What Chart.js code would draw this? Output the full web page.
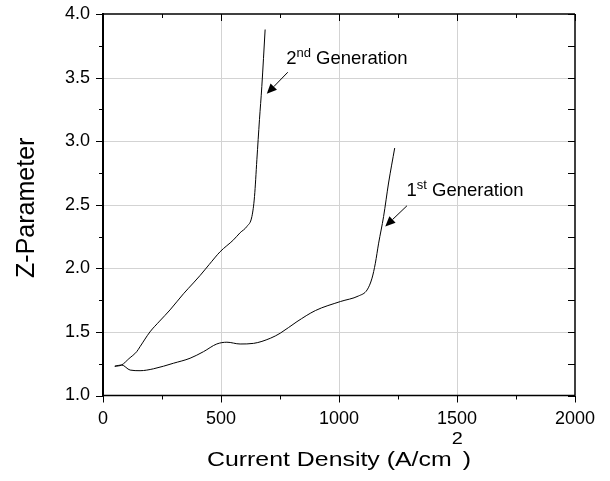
<!DOCTYPE html>
<html>
<head>
<meta charset="utf-8">
<script src="https://cdn.jsdelivr.net/npm/chart.js@4/dist/chart.umd.min.js"></script>
<style>
  html, body { margin: 0; padding: 0; background: #fff; }
  canvas { display: block; }
</style>
</head>
<body>
<canvas id="c" width="610" height="481"></canvas>
<script>
// Current density (A/cm^2) and Z-parameter for each generation
const gen1X = [50, 79, 115, 157, 214, 299, 369, 426, 482, 525, 581, 638, 709, 751, 822, 900, 1006, 1083, 1119, 1140, 1154, 1168, 1189, 1210, 1236];
const gen1Y = [1.23, 1.24, 1.20, 1.195, 1.21, 1.254, 1.293, 1.345, 1.405, 1.419, 1.405, 1.41, 1.45, 1.49, 1.581, 1.668, 1.739, 1.783, 1.83, 1.923, 2.04, 2.198, 2.408, 2.671, 2.946];

const gen2X = [50, 79, 110, 143, 157, 199, 240, 284, 341, 383, 412, 450, 496, 553, 581, 610, 631, 642, 652, 663, 673, 687];
const gen2Y = [1.23, 1.24, 1.29, 1.345, 1.384, 1.50, 1.585, 1.673, 1.80, 1.885, 1.945, 2.03, 2.13, 2.224, 2.28, 2.33, 2.408, 2.565, 2.854, 3.169, 3.43, 3.878];

// Axis ranges and steps
const xRange = [0, 2000];
const yRange = [1.0, 4.0];
const xMajor = 500, xMinor = 250;
const yMajor = 0.5, yMinor = 0.25;

// Axis titles: [text, superscript, closing text]
const xTitle = ['Current Density (A/cm', '2', ')'];
const yTitle = 'Z-Parameter';

// Callout labels: [main, superscript, rest]
const gen1Label = ['1', 'st', ' Generation'];
const gen2Label = ['2', 'nd', ' Generation'];

const FONT = '"Liberation Sans", Arial, Helvetica, sans-serif';

const toPoints = (xs, ys) => xs.map((v, i) => ({ x: v, y: ys[i] }));

function seg(ctx, x1, y1, x2, y2) {
  ctx.beginPath();
  ctx.moveTo(x1, y1);
  ctx.lineTo(x2, y2);
  ctx.stroke();
}

const isMultiple = (v, step) => Math.abs(v / step - Math.round(v / step)) < 1e-6;

// Light grid at interior major ticks
const gridPlugin = {
  id: 'grid',
  beforeDatasetsDraw(chart) {
    const { ctx, chartArea: { left, right, top, bottom }, scales: { x, y } } = chart;
    ctx.save();
    ctx.strokeStyle = '#d3d3d3';
    ctx.lineWidth = 1;
    for (let v = xRange[0] + xMajor; v < xRange[1] - 1e-6; v += xMajor) {
      const px = Math.round(x.getPixelForValue(v)) + 0.5;
      seg(ctx, px, top, px, bottom);
    }
    for (let v = yRange[0] + yMajor; v < yRange[1] - 1e-6; v += yMajor) {
      const py = Math.round(y.getPixelForValue(v)) + 0.5;
      seg(ctx, left, py, right, py);
    }
    ctx.restore();
  }
};

// Box frame with ticks
const framePlugin = {
  id: 'frame',
  afterDatasetsDraw(chart) {
    const { ctx, chartArea: { left, right, top, bottom }, scales: { x, y } } = chart;
    ctx.save();
    ctx.strokeStyle = '#000';
    ctx.lineWidth = 1;
    for (let v = xRange[0]; v <= xRange[1] + 1e-6; v += xMinor) {
      const px = Math.round(x.getPixelForValue(v)) + 0.5;
      const len = isMultiple(v, xMajor) ? 7 : 4;
      seg(ctx, px, bottom, px, bottom + len);
      seg(ctx, px, top, px, top + len);
    }
    for (let v = yRange[0]; v <= yRange[1] + 1e-6; v += yMinor) {
      const py = Math.round(y.getPixelForValue(v)) + 0.5;
      const len = isMultiple(v, yMajor) ? 7 : 4;
      seg(ctx, left - len, py, left, py);
      seg(ctx, right - 7, py, right, py);
    }
    ctx.lineWidth = 1.5;
    seg(ctx, left, top, right, top);
    seg(ctx, right, top, right, bottom);
    seg(ctx, left, bottom, right, bottom);
    ctx.lineWidth = 2;
    seg(ctx, left, top - 1, left, bottom + 1);
    ctx.restore();
  }
};

function drawArrow(ctx, x1, y1, x2, y2) {
  const ang = Math.atan2(y2 - y1, x2 - x1);
  const head = 10, wing = 4.5;
  const bx = x2 - head * Math.cos(ang), by = y2 - head * Math.sin(ang);
  ctx.beginPath();
  ctx.moveTo(x1, y1);
  ctx.lineTo(bx, by);
  ctx.stroke();
  ctx.beginPath();
  ctx.moveTo(x2, y2);
  ctx.lineTo(bx + wing * Math.sin(ang), by - wing * Math.cos(ang));
  ctx.lineTo(bx - wing * Math.sin(ang), by + wing * Math.cos(ang));
  ctx.closePath();
  ctx.fill();
}

function drawLabel(ctx, parts, px, py) {
  ctx.textBaseline = 'alphabetic';
  ctx.textAlign = 'left';
  ctx.font = '18.5px ' + FONT;
  ctx.fillText(parts[0], px, py);
  let cx = px + ctx.measureText(parts[0]).width;
  ctx.font = '13px ' + FONT;
  ctx.fillText(parts[1], cx, py - 7);
  cx += ctx.measureText(parts[1]).width;
  ctx.font = '18.5px ' + FONT;
  ctx.fillText(parts[2], cx, py);
}

// Callouts placed in data coordinates
const calloutPlugin = {
  id: 'callouts',
  afterDatasetsDraw(chart) {
    const { ctx, scales: { x, y } } = chart;
    const P = (vx, vy) => [x.getPixelForValue(vx), y.getPixelForValue(vy)];
    ctx.save();
    ctx.fillStyle = '#000';
    ctx.strokeStyle = '#000';
    ctx.lineWidth = 1;
    let t = P(776, 3.61);
    drawLabel(ctx, gen2Label, t[0], t[1]);
    let a = P(783, 3.542), b = P(694, 3.372);
    drawArrow(ctx, a[0], a[1], b[0], b[1]);
    t = P(1286, 2.571);
    drawLabel(ctx, gen1Label, t[0], t[1]);
    a = P(1288, 2.492); b = P(1196, 2.329);
    drawArrow(ctx, a[0], a[1], b[0], b[1]);
    ctx.restore();
  }
};

// Axis titles, the x title slightly widened
const titlePlugin = {
  id: 'axisTitles',
  afterDraw(chart) {
    const { ctx, chartArea: { left, right, top, bottom } } = chart;
    ctx.save();
    ctx.fillStyle = '#000';
    ctx.textBaseline = 'alphabetic';
    ctx.textAlign = 'left';
    // x title
    const mainFont = '20px ' + FONT, supFont = '16px ' + FONT;
    ctx.font = mainFont;
    const w0 = ctx.measureText(xTitle[0]).width;
    const w2 = ctx.measureText(xTitle[2]).width;
    ctx.font = supFont;
    const w1 = ctx.measureText(xTitle[1]).width;
    const natural = w0 + w1 + w2;
    const sx = 264 / natural;
    const cx = (left + right) / 2;
    const base = bottom + 70;
    ctx.translate(cx - natural * sx / 2, base);
    ctx.scale(sx, 1);
    ctx.font = mainFont;
    ctx.fillText(xTitle[0], 0, 0);
    ctx.font = supFont;
    ctx.fillText(xTitle[1], w0, -22);
    ctx.font = mainFont;
    ctx.fillText(xTitle[2], w0 + w1, 0);
    ctx.setTransform(1, 0, 0, 1, 0, 0);
    // y title
    ctx.font = '25px ' + FONT;
    ctx.textAlign = 'center';
    ctx.translate(33.5, (top + bottom) / 2 + 3);
    ctx.rotate(-Math.PI / 2);
    ctx.fillText(yTitle, 0, 0);
    ctx.restore();
  }
};

const lineStyle = {
  borderColor: '#000',
  borderWidth: 1,
  pointRadius: 0,
  fill: false,
  cubicInterpolationMode: 'monotone'
};

new Chart(document.getElementById('c'), {
  type: 'line',
  data: {
    datasets: [
      Object.assign({ label: '1st Generation', data: toPoints(gen1X, gen1Y) }, lineStyle),
      Object.assign({ label: '2nd Generation', data: toPoints(gen2X, gen2Y) }, lineStyle)
    ]
  },
  options: {
    responsive: false,
    devicePixelRatio: 1,
    animation: false,
    layout: { padding: { top: 14, right: 35, left: 0, bottom: 0 } },
    plugins: { legend: { display: false }, tooltip: { enabled: false } },
    scales: {
      x: {
        type: 'linear',
        min: xRange[0], max: xRange[1],
        afterFit(scale) { scale.height = 85.5; scale.paddingLeft = 0; scale.paddingRight = 0; },
        ticks: { stepSize: xMajor, color: '#000', padding: 13, maxRotation: 0, font: { family: FONT, size: 18 }, callback: v => String(v) },
        grid: { display: false, drawTicks: false },
        border: { display: false },
        title: { display: false }
      },
      y: {
        type: 'linear',
        min: yRange[0], max: yRange[1],
        afterFit(scale) { scale.width = 103; scale.paddingTop = 0; scale.paddingBottom = 0; },
        ticks: { stepSize: yMajor, color: '#000', padding: 13, font: { family: FONT, size: 18 }, callback: v => Number(v).toFixed(1) },
        grid: { display: false, drawTicks: false },
        border: { display: false },
        title: { display: false }
      }
    }
  },
  plugins: [gridPlugin, framePlugin, calloutPlugin, titlePlugin]
});
</script>
</body>
</html>
